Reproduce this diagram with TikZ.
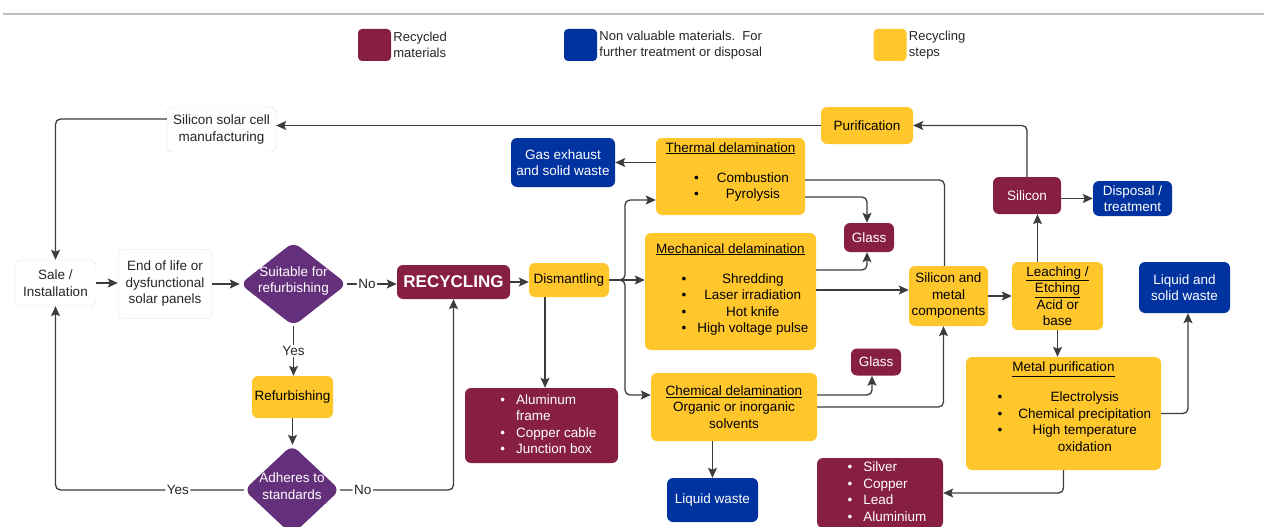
\documentclass[tikz,border=0pt]{standalone}
\usepackage{fontspec}
\setmainfont{Liberation Sans}
\usetikzlibrary{shapes.geometric, arrows.meta, positioning}
\definecolor{recred}{HTML}{861F41}
\definecolor{wasteblue}{HTML}{0033A0}
\definecolor{stepyellow}{HTML}{FFC72C}
\definecolor{askpurple}{HTML}{642F7B}
\definecolor{wire}{HTML}{3C3C3C}

\begin{document}
\begin{tikzpicture}[x=1pt, y=-1pt,
    every node/.style={font=\fontsize{13.5}{16.5}\selectfont},
    box/.style={rounded corners=6pt, align=center, inner xsep=2pt, inner ysep=0pt},
    recycled/.style={box, fill=recred, text=white},
    waste/.style={box, fill=wasteblue, text=white},
    rstep/.style={box, fill=stepyellow, text=black},
    plain/.style={box, draw=black!12, fill=white, text=black!85},
    decision/.style={diamond, fill=askpurple, rounded corners=8pt, inner sep=0pt, aspect=1},
    dtext/.style={align=center, text=white, inner sep=0pt},
    edgelbl/.style={fill=white, inner sep=1.5pt, text=black!85},
    swatch/.style={rounded corners=4pt, minimum width=33pt, minimum height=32pt, inner sep=0pt},
    legtext/.style={align=left, inner sep=0pt, text=black!85, font=\fontsize{13}{16}\selectfont},
    link/.style={draw=wire, line width=1.3pt, rounded corners=5pt},
    arr/.style={link, -{Stealth[length=10pt, width=9pt, inset=2pt]}}]
    \clip (0,0) rectangle (1264,527);
    \draw[black!25, line width=1.2pt] (3,14) -- (1264,14);

    \foreach \nm/\x/\col/\txt in {lgrec/374.5/recred/{Recycled\\materials},
        lgwaste/580.5/wasteblue/{Non valuable materials.\ \ For\\further treatment or disposal},
        lgstep/890/stepyellow/{Recycling\\steps}} {
        \node[swatch, fill=\col] (\nm) at (\x,45) {};
        \node[legtext, right=2pt of \nm] (\nm-t) {\txt};
    }

    \node[plain, minimum width=109pt, minimum height=45pt] (mfg) at (221.5,129.5) {Silicon solar cell\\manufacturing};
    \node[plain, minimum width=81pt, minimum height=46pt] (sale) at (55.5,283) {Sale /\\Installation};
    \node[plain, minimum width=94pt, minimum height=69pt] (eol) at (165,284) {End of life or\\dysfunctional\\solar panels};
    \node[decision, minimum width=107pt, minimum height=84pt] (suit) at (293.5,284) {};
    \node[dtext, yshift=3pt] (suit-t) at (suit) {Suitable for\\refurbishing};
    \node[rstep, minimum width=81pt, minimum height=42pt] (refurb) at (292.5,397) {Refurbishing};
    \node[decision, minimum width=96pt, minimum height=90pt] (adh) at (292,490) {};
    \node[dtext, yshift=4pt] (adh-t) at (adh) {Adheres to\\standards};
    \node[recycled, minimum width=113pt, minimum height=34pt, font=\fontsize{17}{20}\selectfont\bfseries] (rec) at (453.5,282) {RECYCLING};
    \node[rstep, minimum width=80pt, minimum height=34pt] (dism) at (569,280) {Dismantling};
    \node[recycled, minimum width=153pt, minimum height=75pt] (alum) at (541.5,425.5)
        {\hspace*{14pt}\begin{tabular}{@{}l@{\hspace{11pt}}l@{}}\textbullet & Aluminum\\ & frame\\ \textbullet & Copper cable\\ \textbullet & Junction box\end{tabular}};

    \node[waste, minimum width=104pt, minimum height=49pt] (gas) at (563,162.5) {Gas exhaust\\and solid waste};
    \node[rstep, minimum width=149pt, minimum height=77pt] (therm) at (730.5,176.5)
        {\underline{Thermal delamination}\\[13.5pt]\hspace*{22pt}\begin{tabular}[t]{@{}l@{\hspace{18pt}}c@{}}\textbullet & Combustion\\ \textbullet & Pyrolysis\rule[-12pt]{0pt}{12pt}\end{tabular}};
    \node[rstep, minimum width=171pt, minimum height=117pt] (mech) at (730.5,291.5)
        {\underline{Mechanical delamination}\\[13.5pt]\hspace*{29pt}\begin{tabular}[t]{@{}l@{\hspace{11pt}}c@{}}\textbullet & Shredding\\ \textbullet & Laser irradiation\\ \textbullet & Hot knife\\ \textbullet & High voltage pulse\rule[-7pt]{0pt}{7pt}\end{tabular}};
    \node[rstep, minimum width=166pt, minimum height=68pt] (chem) at (734,407) {\underline{Chemical delamination}\\Organic or inorganic\\solvents};
    \node[waste, minimum width=91pt, minimum height=44pt] (liq) at (712.5,500) {Liquid waste};
    \node[recycled, minimum width=50pt, minimum height=29pt] (glass1) at (869,237.5) {Glass};
    \node[recycled, minimum width=50pt, minimum height=27pt] (glass2) at (876,362) {Glass};

    \node[rstep, minimum width=79pt, minimum height=60pt] (sm) at (948.5,296) {Silicon and\\metal\\components};
    \node[rstep, minimum width=92pt, minimum height=37pt] (purif) at (867,125.5) {Purification};
    \node[recycled, minimum width=68pt, minimum height=37pt] (silicon) at (1027,195.5) {Silicon};
    \node[waste, minimum width=79pt, minimum height=35pt] (disp) at (1132.5,198.5) {Disposal /\\treatment};
    \node[rstep, minimum width=91pt, minimum height=68pt] (leach) at (1057.5,296) {\underline{Leaching /}\\\underline{Etching}\\Acid or\\base};
    \node[waste, minimum width=91pt, minimum height=51pt] (lsw) at (1184.5,287.5) {Liquid and\\solid waste};
    \node[rstep, minimum width=195pt, minimum height=113pt] (metal) at (1063.5,413.5)
        {\underline{Metal purification}\\[13.5pt]\hspace*{22pt}\begin{tabular}[t]{@{}l@{\hspace{16pt}}c@{}}\textbullet & Electrolysis\\ \textbullet & Chemical precipitation\\ \textbullet & High temperature\\ & oxidation\rule[-14pt]{0pt}{14pt}\end{tabular}};
    \node[recycled, minimum width=126pt, minimum height=70pt] (silver) at (880,493)
        {\hspace*{14pt}\begin{tabular}{@{}l@{\hspace{11pt}}l@{}}\textbullet & Silver\\ \textbullet & Copper\\ \textbullet & Lead\\ \textbullet & Aluminium\end{tabular}};

    \draw[arr] ([yshift=10.5pt]mfg.west) -| (sale.north);
    \draw[arr] (purif.west) -- (purif.west -| mfg.east);
    \draw[arr] (sale.east) -- (sale.east -| eol.west);
    \draw[arr] (eol.east) -- (eol.east -| suit.west);
    \draw[arr] (suit.east) -- node[edgelbl, pos=0.4] {No} (suit.east -| rec.west);
    \draw[arr] (suit.south) -- node[edgelbl] {Yes} (suit.south |- refurb.north);
    \draw[arr] (refurb.south) -- (refurb.south |- adh.north);
    \draw[arr] (adh.west) -- node[edgelbl, pos=0.35] {Yes} (adh.west -| sale.south) -- (sale.south);
    \draw[arr] (adh.east) -- node[edgelbl, pos=0.2] {No} (adh.east -| rec.south) -- (rec.south);
    \draw[arr] (rec.east) -- (rec.east -| dism.west);

    \coordinate (split) at (625,280);
    \draw[arr] (dism.east) -- (split) |- ([yshift=-23.5pt]therm.west);
    \draw[arr] (dism.east) -- (split) -- (split -| mech.west);
    \draw[arr] (dism.east) -- (split) |- ([yshift=12pt]chem.west);
    \draw[arr] ([xshift=-24pt]dism.south) -- ([xshift=-24pt]dism.south |- alum.north);

    \draw[arr] (gas.east -| therm.west) -- (gas.east);
    \draw[link] ([yshift=-3.5pt]therm.east) -| ([xshift=-4pt]sm.north);
    \draw[arr] ([yshift=-20.5pt]therm.east) -| ([xshift=-2pt]glass1.north);
    \draw[arr] ([yshift=21.5pt]mech.east) -| ([xshift=-2pt]glass1.south);
    \draw[arr] ([yshift=1.5pt]mech.east) -- ([yshift=1.5pt]mech.east -| sm.west);
    \draw[arr] ([yshift=12pt]chem.east) -| ([xshift=-4pt]glass2.south);
    \draw[arr] (chem.east) -| ([xshift=-5pt]sm.south);
    \draw[arr] (liq.north |- chem.south) -- (liq.north);

    \draw[arr] (sm.east) -- (sm.east -| leach.west);
    \draw[arr] ([xshift=-20pt]leach.north) -- ([xshift=-20pt]leach.north |- silicon.south);
    \draw[arr] (silicon.north) |- (purif.east);
    \draw[arr] (silicon.east |- disp.west) -- (disp.west);
    \draw[arr] (leach.south) -- (leach.south |- metal.north);
    \draw[arr] (metal.east) -| ([xshift=3.5pt]lsw.south);
    \draw[arr] (metal.south) |- (silver.east);
\end{tikzpicture}
\end{document}
